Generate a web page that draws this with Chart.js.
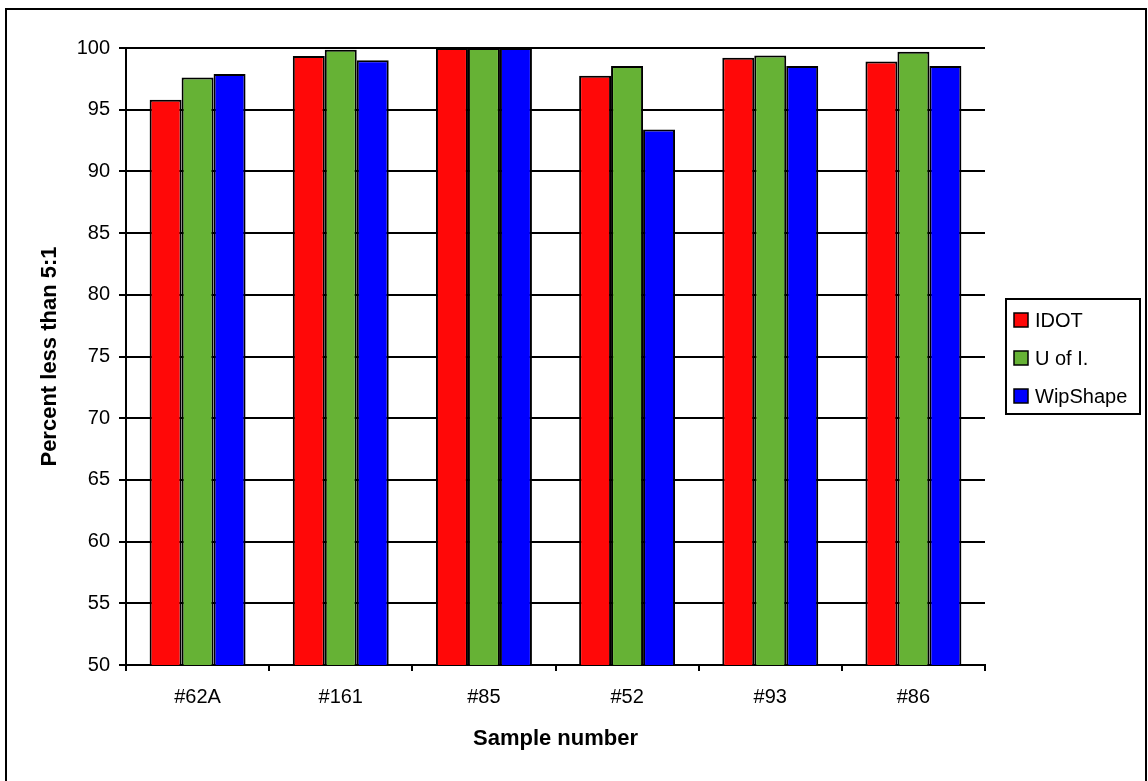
<!DOCTYPE html>
<html>
<head>
<meta charset="utf-8">
<script src="https://cdn.jsdelivr.net/npm/chart.js@4"></script>
<style>
  html, body { margin: 0; padding: 0; background: #fff; }
  #wrap { width: 1148px; height: 781px; }
</style>
</head>
<body>
<div id="wrap"><canvas id="bar-chart" width="1148" height="781"></canvas></div>
<script>
const categories = ['#62A', '#161', '#85', '#52', '#93', '#86']
const seriesLabels = ['IDOT', 'U of I.', 'WipShape']
const idotValues = [95.8, 99.35, 100, 97.75, 99.2, 98.9]
const uofiValues = [97.6, 99.85, 100, 98.55, 99.4, 99.7]
const wipShapeValues = [97.9, 99.0, 100, 93.4, 98.55, 98.55]
const seriesColors = ['#ff0808', '#66b235', '#0000ff']

const fontFamily = '"Liberation Sans", Arial, sans-serif'

const datasets = [idotValues, uofiValues, wipShapeValues].map(function (values, i) {
  return {
    label: seriesLabels[i],
    data: values,
    backgroundColor: seriesColors[i],
    borderColor: '#000',
    borderWidth: 2,
    categoryPercentage: 0.67,
    barPercentage: 1.0,
  }
})

// white background + outer frame
const framePlugin = {
  id: 'frame',
  beforeDraw (chart) {
    const ctx = chart.ctx
    ctx.save()
    ctx.fillStyle = '#fff'
    ctx.fillRect(0, 0, chart.width, chart.height)
    ctx.strokeStyle = '#000'
    ctx.lineWidth = 2
    ctx.beginPath()
    ctx.moveTo(6, chart.height + 5)
    ctx.lineTo(6, 9)
    ctx.lineTo(1146, 9)
    ctx.lineTo(1146, chart.height + 5)
    ctx.stroke()
    ctx.restore()
  },
}

// boxed legend to the right of the plot
const boxLegendPlugin = {
  id: 'boxLegend',
  afterDraw (chart) {
    const ctx = chart.ctx
    const left = 1006
    const top = 299
    const width = 134
    const height = 115
    ctx.save()
    ctx.strokeStyle = '#000'
    ctx.lineWidth = 2
    ctx.strokeRect(left, top, width, height)
    ctx.font = '20px ' + fontFamily
    ctx.textBaseline = 'middle'
    chart.data.datasets.forEach(function (ds, i) {
      const cy = top + 21 + i * 38
      ctx.fillStyle = ds.backgroundColor
      ctx.fillRect(left + 8, cy - 7, 14, 14)
      ctx.lineWidth = 1.5
      ctx.strokeRect(left + 8, cy - 7, 14, 14)
      ctx.fillStyle = '#000'
      ctx.fillText(ds.label, left + 29, cy + 1)
    })
    ctx.restore()
  },
}

const barChartConfig = {
  type: 'bar',
  data: {
    labels: categories,
    datasets: datasets,
  },
  options: {
    responsive: false,
    animation: false,
    layout: {
      padding: { left: 0, top: 48, right: 163, bottom: 0 },
    },
    plugins: {
      legend: { display: false },
      tooltip: { enabled: false },
    },
    scales: {
      x: {
        offset: true,
        afterFit: function (scale) { scale.height = 116 },
        grid: {
          offset: true,
          drawOnChartArea: false,
          drawTicks: true,
          tickLength: 6,
          color: '#000',
          lineWidth: 2,
        },
        border: { color: '#000', width: 2 },
        ticks: {
          color: '#000',
          padding: 14,
          font: { family: fontFamily, size: 20 },
        },
        title: {
          display: true,
          text: 'Sample number',
          color: '#000',
          padding: { top: 0, bottom: 29 },
          font: { family: fontFamily, size: 22, weight: 'bold' },
        },
      },
      y: {
        min: 50,
        max: 100,
        afterFit: function (scale) { scale.width = 126 },
        grid: {
          color: '#000',
          lineWidth: 2,
          tickLength: 7,
        },
        border: { color: '#000', width: 2 },
        ticks: {
          stepSize: 5,
          color: '#000',
          padding: 9,
          font: { family: fontFamily, size: 20 },
        },
        title: {
          display: true,
          text: 'Percent less than 5:1',
          color: '#000',
          padding: { top: 37, bottom: 0 },
          font: { family: fontFamily, size: 22, weight: 'bold' },
        },
      },
    },
  },
  plugins: [framePlugin, boxLegendPlugin],
}

const barChartCanvas = document.getElementById('bar-chart').getContext('2d')
const barChart = new Chart(barChartCanvas, barChartConfig)
</script>
</body>
</html>
